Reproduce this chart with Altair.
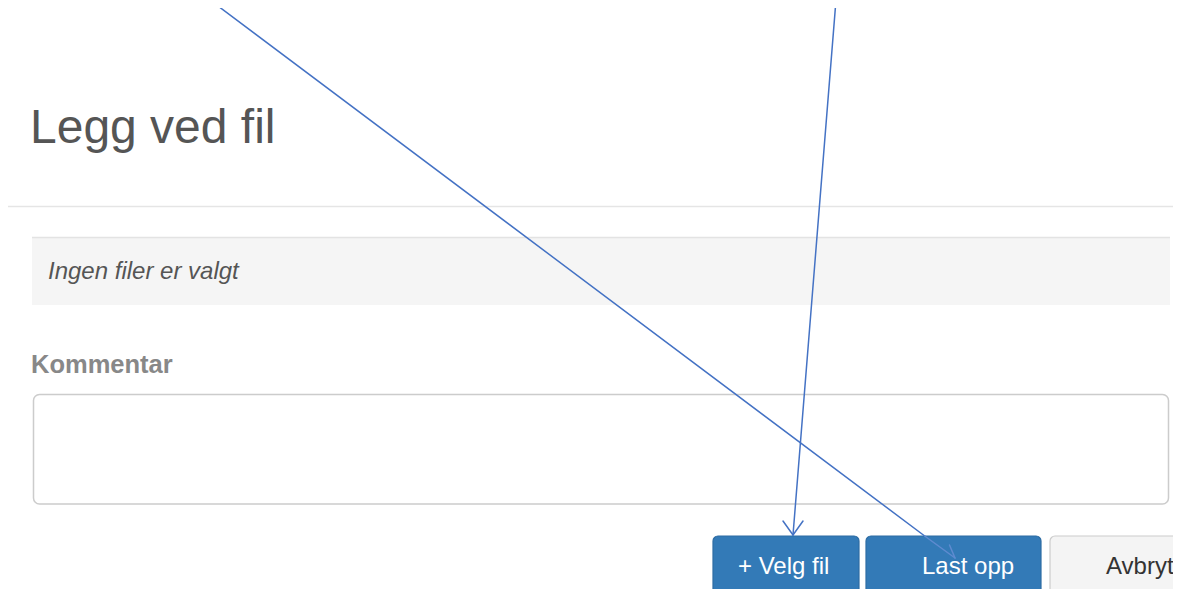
import altair as alt
import pandas as pd

# ---- content (screen coordinates in px) ----
title_text = ["Legg ved fil"]
info_text = ["Ingen filer er valgt"]
label_text = ["Kommentar"]
button_labels = ["+ Velg fil", "Last opp", "Avbryt"]

# buttons: left, right, top, bottom
btn_x1 = [713, 866, 1050]
btn_x2 = [859, 1041, 1210]
btn_y1 = [536, 536, 536]
btn_y2 = [595, 595, 595]
btn_fill = ["#337ab7", "#337ab7", "#f4f4f4"]
btn_stroke = ["#2e6da4", "#2e6da4", "#cccccc"]
btn_text_x = [738, 922, 1106]
btn_text_color = ["#ffffff", "#ffffff", "#333333"]

# arrow segments (x1, y1, x2, y2)
arrow_x1 = [210, 924.7, 955, 836, 793, 793]
arrow_y1 = [0, 536, 558, 0, 535, 535]
arrow_x2 = [924.7, 955, 949.5, 793, 783, 803]
arrow_y2 = [536, 558, 545, 535, 521, 521]
arrow_col = ["#4472c4", "#5f8bd0", "#5f8bd0", "#4472c4", "#4472c4", "#4472c4"]

FONT = "Liberation Sans"
W, H = 1165, 581
xs = alt.Scale(domain=[8, 8 + W], nice=False, zero=False)
ys = alt.Scale(domain=[8, 8 + H], nice=False, zero=False, reverse=True)


def X(f):
    return alt.X(f, type="quantitative", scale=xs, axis=None)


def Y(f):
    return alt.Y(f, type="quantitative", scale=ys, axis=None)


# separator line under the title
sep = alt.Chart(pd.DataFrame({"x": [8], "x2": [1181], "y": [206.5]})).mark_rule(
    color="#e5e5e5", strokeWidth=1.5
).encode(x=X("x"), x2="x2", y=Y("y"))

# grey info box
box = alt.Chart(pd.DataFrame({"x": [32], "x2": [1170], "y": [237], "y2": [305]})).mark_rect(
    fill="#f5f5f5"
).encode(x=X("x"), x2="x2", y=Y("y"), y2="y2")
box_top = alt.Chart(pd.DataFrame({"x": [32], "x2": [1170], "y": [237.5]})).mark_rule(
    color="#e3e3e3", strokeWidth=1.5
).encode(x=X("x"), x2="x2", y=Y("y"))

# text area
area = alt.Chart(pd.DataFrame({"x": [33.5], "x2": [1168.5], "y": [394.5], "y2": [504]})).mark_rect(
    fill="#ffffff", stroke="#cccccc", strokeWidth=1.5, cornerRadius=6
).encode(x=X("x"), x2="x2", y=Y("y"), y2="y2")

# buttons
btn_df = pd.DataFrame({
    "x": btn_x1, "x2": btn_x2, "y": btn_y1, "y2": btn_y2,
    "fill": btn_fill, "stroke": btn_stroke,
    "label": button_labels, "tx": btn_text_x, "tcol": btn_text_color,
    "ty": [574, 574, 574],
})
buttons = alt.Chart(btn_df).mark_rect(cornerRadius=5, strokeWidth=1.2).encode(
    x=X("x"), x2="x2", y=Y("y"), y2="y2",
    fill=alt.Fill("fill:N", scale=None), stroke=alt.Stroke("stroke:N", scale=None),
)
btn_text = alt.Chart(btn_df).mark_text(
    align="left", baseline="alphabetic", font=FONT, fontSize=24
).encode(x=X("tx"), y=Y("ty"), text="label:N", color=alt.Color("tcol:N", scale=None))

# texts
title = alt.Chart(pd.DataFrame({"t": title_text, "x": [30], "y": [143]})).mark_text(
    align="left", baseline="alphabetic", font=FONT, fontSize=48, color="#555555"
).encode(x=X("x"), y=Y("y"), text="t:N")
info = alt.Chart(pd.DataFrame({"t": info_text, "x": [48], "y": [279]})).mark_text(
    align="left", baseline="alphabetic", font=FONT, fontSize=24, fontStyle="italic", color="#555555"
).encode(x=X("x"), y=Y("y"), text="t:N")
label = alt.Chart(pd.DataFrame({"t": label_text, "x": [31], "y": [373]})).mark_text(
    align="left", baseline="alphabetic", font=FONT, fontSize=25.5, fontWeight="bold", color="#888888"
).encode(x=X("x"), y=Y("y"), text="t:N")

# arrows
arr_df = pd.DataFrame({"x": arrow_x1, "y": arrow_y1, "x2": arrow_x2, "y2": arrow_y2, "c": arrow_col})
arrows = alt.Chart(arr_df).mark_rule(strokeWidth=1.5, strokeCap="round").encode(
    x=X("x"), y=Y("y"), x2="x2", y2="y2", color=alt.Color("c:N", scale=None)
)

chart = alt.layer(
    sep, box, box_top, area, title, info, label, buttons, btn_text, arrows
).properties(
    width=W, height=H, padding=0, autosize=alt.AutoSizeParams(type="none"), background="#ffffff"
).configure_view(stroke=None)

chart.save("out.html", embed_options={"renderer": "svg", "actions": False})
